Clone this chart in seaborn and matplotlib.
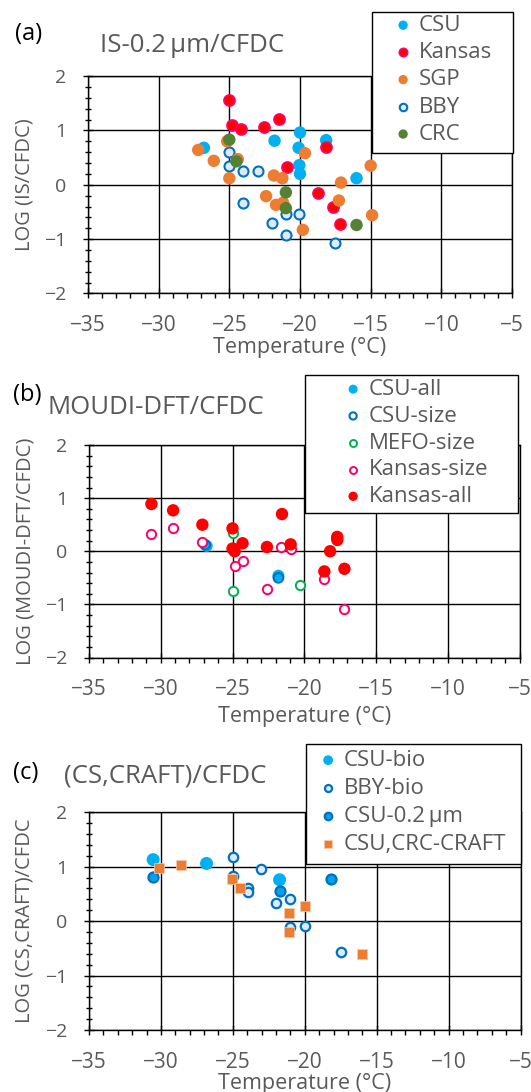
import matplotlib
matplotlib.use("Agg")
import matplotlib.pyplot as plt
import seaborn as sns
from matplotlib.patches import Rectangle
from matplotlib.ticker import MultipleLocator

# ---------------- data ----------------
# Panel (a)  IS-0.2 um / CFDC
a_csu_t = [-26.8, -21.8, -20.0, -18.15, -20.1, -20.05, -20.0, -16.0]
a_csu_v = [0.68, 0.81, 0.96, 0.82, 0.68, 0.36, 0.20, 0.12]
a_kansas_t = [-25.0, -24.8, -24.2, -22.55, -21.5, -18.15, -20.9, -18.7, -17.7, -17.2]
a_kansas_v = [1.56, 1.09, 1.03, 1.07, 1.21, 0.69, 0.33, -0.15, -0.41, -0.72]
a_sgp_t = [-27.2, -26.1, -25.15, -24.4, -25.0, -19.65, -21.85, -21.25, -22.4, -21.7,
           -21.2, -19.8, -17.1, -17.25, -15.0, -14.9]
a_sgp_v = [0.64, 0.44, 0.80, 0.47, 0.12, 0.58, 0.17, 0.12, -0.21, -0.37,
           -0.33, -0.83, 0.04, -0.29, 0.35, -0.56]
a_bby_t = [-25.0, -25.0, -24.0, -23.0, -24.0, -22.0, -21.0, -20.05, -21.0, -17.5]
a_bby_v = [0.61, 0.35, 0.26, 0.26, -0.33, -0.71, -0.54, -0.54, -0.92, -1.07]
a_crc_t = [-25.0, -24.5, -21.0, -21.0, -16.0]
a_crc_v = [0.83, 0.43, -0.14, -0.43, -0.74]

# Panel (b)  MOUDI-DFT / CFDC
b_csu_all_t = [-26.8, -21.8]
b_csu_all_v = [0.10, -0.46]
b_csu_size_t = [-26.9, -21.8]
b_csu_size_v = [0.12, -0.50]
b_mefo_t = [-25.0, -25.0, -20.3]
b_mefo_v = [0.35, -0.75, -0.64]
b_ksize_t = [-30.65, -29.14, -27.1, -25.0, -24.85, -24.3, -22.6, -21.6, -20.95, -17.7, -18.6, -17.2]
b_ksize_v = [0.32, 0.44, 0.17, 0.06, -0.27, -0.18, -0.71, 0.08, 0.05, 0.21, -0.52, -1.09]
b_kall_t = [-30.65, -29.14, -27.1, -25.0, -25.0, -24.85, -24.3, -22.6, -21.55, -20.95,
            -17.7, -17.7, -18.2, -18.6, -17.2]
b_kall_v = [0.89, 0.77, 0.50, 0.43, 0.05, 0.00, 0.15, 0.08, 0.70, 0.13,
            0.27, 0.22, 0.00, -0.38, -0.33]

# Panel (c)  (CS,CRAFT) / CFDC
c_csu_bio_t = [-30.54, -26.83, -21.75]
c_csu_bio_v = [1.13, 1.06, 0.76]
c_bby_t = [-24.99, -25.0, -23.03, -23.97, -23.97, -21.0, -21.99, -21.0, -20.0, -17.47]
c_bby_v = [1.17, 0.83, 0.96, 0.60, 0.53, 0.41, 0.33, -0.11, -0.09, -0.56]
c_csu02_t = [-30.54, -21.75, -18.19]
c_csu02_v = [0.81, 0.55, 0.78]
c_craft_t = [-30.1, -28.6, -25.06, -24.53, -21.1, -20.0, -21.1, -16.0]
c_craft_v = [0.98, 1.03, 0.78, 0.60, 0.15, 0.28, -0.20, -0.60]

x_ticks = [-35, -30, -25, -20, -15, -10, -5]
y_ticks = [-2, -1, 0, 1, 2]

# ---------------- style ----------------
sns.set_theme(style="white")
plt.rcParams["font.family"] = ["Open Sans", "DejaVu Sans"]
GRAY = "#595959"

W, H = 531, 1092
fig = plt.figure(figsize=(W / 100, H / 100), dpi=100)


def fx(x):
    return x / W


def fy(y):
    return 1 - y / H


def make_axes(L, R, T, B):
    ax = fig.add_axes([fx(L), fy(B), (R - L) / W, (B - T) / H])
    ax.set_xlim(-35, -5)
    ax.set_ylim(-2, 2)
    ax.set_xticks(x_ticks)
    ax.set_yticks(y_ticks)
    ax.xaxis.set_minor_locator(MultipleLocator(1))
    ax.yaxis.set_minor_locator(MultipleLocator(0.2))
    ax.set_axisbelow(True)
    ax.grid(which="major", color="black", lw=1.0)
    ax.grid(which="minor", visible=False)
    for s in ax.spines.values():
        s.set_color("black")
        s.set_linewidth(1.0)
    ax.tick_params(which="major", direction="inout", length=7, width=1, color="black",
                   labelcolor=GRAY, bottom=True, left=True)
    ax.tick_params(axis="x", which="major", labelsize=15, pad=12)
    ax.tick_params(axis="y", which="major", labelsize=14, pad=12)
    ax.tick_params(axis="x", which="minor", direction="out", length=3.5, width=1,
                   color="black", bottom=True)
    ax.tick_params(axis="y", which="minor", direction="inout", length=4, width=1,
                   color="black", left=True)
    return ax


def finish(ax, ylabel, xlab_y, ylab_x):
    ax.set_xlabel("Temperature (°C)", fontsize=15.5, color=GRAY)
    ax.xaxis.label.set_va("center")
    ax.xaxis.set_label_coords(0.5, xlab_y)
    ax.set_ylabel(ylabel, fontsize=14.5, color=GRAY)
    ax.yaxis.label.set_va("center")
    ax.yaxis.set_label_coords(ylab_x, 0.5)


def legend_box(ax, x0, y0, x1, y1, hx, ty, spacing):
    fig.add_artist(Rectangle((fx(x0), fy(y1)), (x1 - x0) / W, (y1 - y0) / H,
                             transform=fig.transFigure, facecolor="white",
                             edgecolor="black", lw=1.0, zorder=3))
    h, l = ax.get_legend_handles_labels()
    leg = fig.legend(h, l, loc="upper left", bbox_to_anchor=(fx(hx), fy(ty)),
                     bbox_transform=fig.transFigure, frameon=False, fontsize=16,
                     labelcolor=GRAY, borderpad=0, borderaxespad=0,
                     handlelength=1.0, handletextpad=0.2, labelspacing=spacing,
                     markerscale=0.75, scatterpoints=1)
    leg.set_zorder(5)
    return leg


# ---------------- panel (a) ----------------
ax_a = make_axes(88, 512, 76, 293.5)
sns.scatterplot(x=a_csu_t, y=a_csu_v, ax=ax_a, s=80, color="#00B0F0", edgecolor="none",
                label="CSU", zorder=3)
sns.scatterplot(x=a_kansas_t, y=a_kansas_v, ax=ax_a, s=62, color="#FF0000",
                edgecolor="#FF0066", linewidth=1.3, label="Kansas", zorder=4)
sns.scatterplot(x=a_sgp_t, y=a_sgp_v, ax=ax_a, s=80, color="#ED7D31", edgecolor="none",
                label="SGP", zorder=6)
sns.scatterplot(x=a_bby_t, y=a_bby_v, ax=ax_a, s=52, color="#DEEBF7",
                edgecolor="#0070C0", linewidth=1.5, label="BBY", zorder=5)
sns.scatterplot(x=a_crc_t, y=a_crc_v, ax=ax_a, s=80, color="#548235", edgecolor="none",
                label="CRC", zorder=7)
if ax_a.get_legend():
    ax_a.get_legend().remove()
finish(ax_a, "LOG (IS/CFDC)", -0.25, -0.1486)
legend_box(ax_a, 371.7, 12, 513, 153, 392, 15, 0.28)
fig.text(fx(29), fy(34), "(a)", fontsize=17, color="black", ha="center", va="center")
fig.text(fx(100), fy(45), "IS-0.2\u2009µm/CFDC", fontsize=18.5, color=GRAY,
         ha="left", va="center")

# ---------------- panel (b) ----------------
ax_b = make_axes(89, 519.5, 445, 657.5)
sns.scatterplot(x=b_csu_all_t, y=b_csu_all_v, ax=ax_b, s=75, color="#00B0F0",
                edgecolor="none", label="CSU-all", zorder=3)
sns.scatterplot(x=b_csu_size_t, y=b_csu_size_v, ax=ax_b, s=48, color="none",
                edgecolor="#0070C0", linewidth=1.5, label="CSU-size", zorder=4)
sns.scatterplot(x=b_mefo_t, y=b_mefo_v, ax=ax_b, s=45, color="white",
                edgecolor="#00B050", linewidth=1.4, label="MEFO-size", zorder=5)
sns.scatterplot(x=b_ksize_t, y=b_ksize_v, ax=ax_b, s=45, color="white",
                edgecolor="#FF0066", linewidth=1.4, label="Kansas-size", zorder=6)
sns.scatterplot(x=b_kall_t, y=b_kall_v, ax=ax_b, s=80, color="#FF0000",
                edgecolor="none", label="Kansas-all", zorder=7)
if ax_b.get_legend():
    ax_b.get_legend().remove()
finish(ax_b, "LOG (MOUDI-DFT/CFDC)", -0.276, -0.1485)
legend_box(ax_b, 304.7, 375, 518, 513, 342, 379, 0.26)
fig.text(fx(27), fy(395), "(b)", fontsize=17, color="black", ha="center", va="center")
fig.text(fx(47), fy(408), "MOUDI-DFT/CFDC", fontsize=18.5, color=GRAY,
         ha="left", va="center")

# ---------------- panel (c) ----------------
ax_c = make_axes(89, 520.5, 812.3, 1030)
sns.scatterplot(x=c_csu_bio_t, y=c_csu_bio_v, ax=ax_c, s=88, color="#00B0F0",
                edgecolor="none", label="CSU-bio", zorder=3)
sns.scatterplot(x=c_bby_t, y=c_bby_v, ax=ax_c, s=46, color="#DEEBF7",
                edgecolor="#0070C0", linewidth=1.6, label="BBY-bio", zorder=4)
sns.scatterplot(x=c_csu02_t, y=c_csu02_v, ax=ax_c, s=52, color="#00A2E8",
                edgecolor="#0070C0", linewidth=1.6, label="CSU-0.2\u2009µm", zorder=5)
sns.scatterplot(x=c_craft_t, y=c_craft_v, ax=ax_c, s=50, color="#ED7D31",
                edgecolor="#F8CBAD", linewidth=0.5, marker="s",
                label="CSU,CRC-CRAFT", zorder=6)
if ax_c.get_legend():
    ax_c.get_legend().remove()
finish(ax_c, "LOG (CS,CRAFT)/CFDC", -0.246, -0.1485)
legend_box(ax_c, 306, 744, 521, 864, 317, 750, 0.31)
fig.text(fx(26), fy(773), "(c)", fontsize=17, color="black", ha="center", va="center")
fig.text(fx(64), fy(776), "(CS,CRAFT)/CFDC", fontsize=18.5, color=GRAY,
         ha="left", va="center")

fig.savefig("out.png", dpi=100)
